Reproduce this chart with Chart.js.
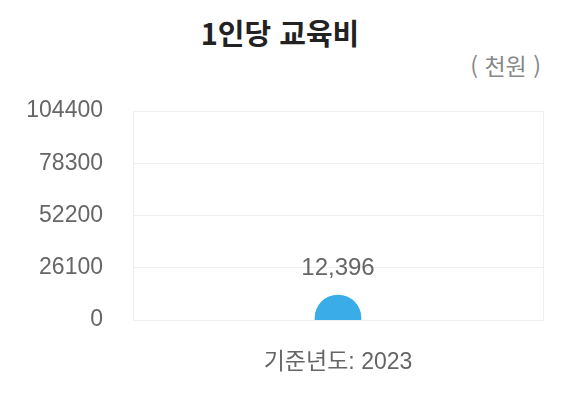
<!DOCTYPE html>
<html lang="ko">
<head>
<meta charset="utf-8">
<script src="https://cdn.jsdelivr.net/npm/chart.js@4"></script>
<style>
  html, body { margin: 0; padding: 0; background: #fff; }
  #wrap { position: relative; width: 578px; height: 412px; overflow: hidden; }
  #title {
    position: absolute; left: 0; top: 11px; width: 560px; text-align: center;
    font: bold 29px "Noto Sans CJK KR", "Noto Sans", sans-serif; color: #222;
  }
  #unit {
    position: absolute; right: 37px; top: 48px;
    font: 23px "Noto Sans CJK KR", "Noto Sans", sans-serif; color: #888;
  }
  canvas { position: absolute; left: 0; top: 0; }
</style>
</head>
<body>
<div id="wrap">
  <div id="title">1인당 교육비</div>
  <div id="unit">( 천원 )</div>
  <canvas id="chart" width="578" height="412"></canvas>
</div>
<script>
const categories = ["기준년도: 2023"];
const values = [12396];
const yTicks = [0, 26100, 52200, 78300, 104400];

const NARROW = '"Liberation Sans", "Noto Sans CJK KR", sans-serif';
const GRID = "#efefef";

// value label above the bar
const valueLabels = {
  id: "valueLabels",
  afterDatasetsDraw(chart) {
    const ctx = chart.ctx;
    const meta = chart.getDatasetMeta(0);
    ctx.save();
    ctx.font = "24px " + NARROW;
    ctx.fillStyle = "#666";
    ctx.textAlign = "center";
    ctx.textBaseline = "alphabetic";
    meta.data.forEach((bar, i) => {
      ctx.fillText(values[i].toLocaleString("en-US"), bar.x, bar.y - 20);
    });
    ctx.restore();
  }
};

new Chart(document.getElementById("chart"), {
  type: "bar",
  data: {
    labels: categories,
    datasets: [{
      // drawn symmetric about zero and clipped at the axis so the top is a full half circle
      data: values.map(v => [-v, v]),
      backgroundColor: "#3aade8",
      barThickness: 46,
      borderRadius: 23,
      borderSkipped: false,
      clip: 0
    }]
  },
  options: {
    responsive: false,
    animation: false,
    layout: { padding: { top: 111, right: 35, bottom: 0, left: 0 } },
    plugins: { legend: { display: false }, tooltip: { enabled: false } },
    scales: {
      x: {
        grid: { color: GRID, drawTicks: false },
        border: { color: GRID },
        ticks: { color: "#666", padding: 29, font: { size: 23, family: NARROW } },
        afterFit(scale) { scale.height = 92; }
      },
      y: {
        min: yTicks[0],
        max: yTicks[yTicks.length - 1],
        afterBuildTicks(scale) { scale.ticks = yTicks.map(v => ({ value: v })); },
        grid: { color: GRID, drawTicks: false },
        border: { color: GRID },
        ticks: {
          color: "#666", padding: 30, font: { size: 23, family: NARROW },
          callback: v => String(v)
        },
        afterFit(scale) { scale.width = 133; }
      }
    }
  },
  plugins: [valueLabels]
});
</script>
</body>
</html>
